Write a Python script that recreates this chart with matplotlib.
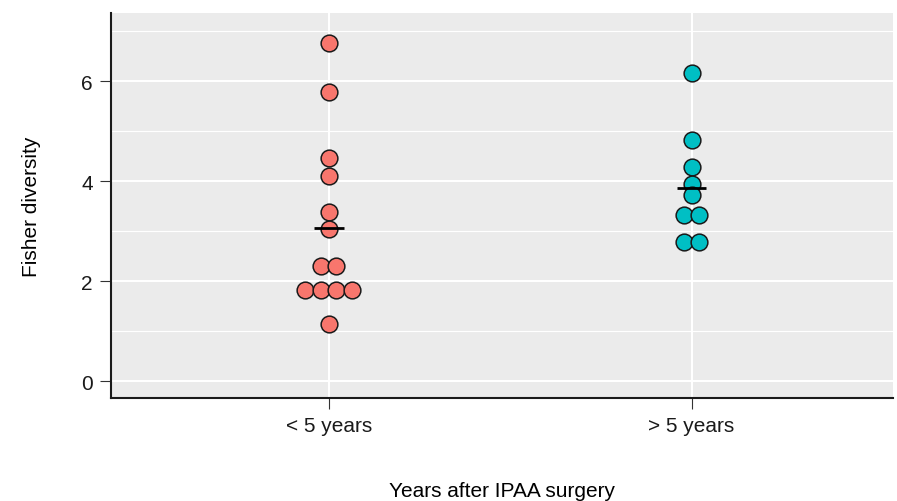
import matplotlib.pyplot as plt
import numpy as np

plt.rcParams["font.family"] = ["Liberation Sans", "DejaVu Sans"]

# data
groups = ["< 5 years", "> 5 years"]
under5 = [6.77, 5.79, 4.47, 4.11, 3.39, 3.05, 2.31, 2.31, 1.83, 1.83, 1.83, 1.83, 1.14]
over5 = [6.17, 4.83, 4.29, 3.94, 3.73, 3.32, 3.32, 2.79, 2.79]
group_means = [3.06, 3.86]
colors = ["#F8766D", "#00BFC4"]

DOT_W = 0.043

fig = plt.figure(figsize=(8.97, 5.02), dpi=100)
ax = fig.add_axes([0.1237, 0.205, 0.8718, 0.767])
ax.set_facecolor("#EBEBEB")

for i, (vals, col) in enumerate(zip([under5, over5], colors)):
    xpos = i + 1
    vals = np.array(vals)
    xs = np.zeros_like(vals)
    for v in np.unique(vals):
        idx = np.where(vals == v)[0]
        n = len(idx)
        xs[idx] = xpos + (np.arange(n) - (n - 1) / 2) * DOT_W
    ax.scatter(xs, vals, s=145, c=col, edgecolors="#1a1a1a", linewidths=1.1, zorder=3)
    ax.plot([xpos - 0.041, xpos + 0.041], [group_means[i]] * 2, color="black", lw=2, zorder=4,
            solid_capstyle="butt")

ax.set_xlim(0.4, 2.555)
ax.set_ylim(-0.34, 7.36)
ax.set_xticks([1, 2])
ax.set_xticklabels(groups)
ax.set_yticks([0, 2, 4, 6])
ax.set_yticks([1, 3, 5, 7], minor=True)

ax.grid(which="major", color="white", lw=1.5, zorder=0)
ax.grid(which="minor", axis="y", color="white", lw=0.8, zorder=0)
ax.set_axisbelow(True)

for s in ["top", "right"]:
    ax.spines[s].set_visible(False)
for s in ["left", "bottom"]:
    ax.spines[s].set_color("#1a1a1a")
    ax.spines[s].set_linewidth(1.5)

ax.tick_params(which="major", length=8, width=0.8, color="#333333", labelsize=15,
               labelcolor="#1a1a1a", pad=5)
ax.tick_params(which="minor", length=0)

ax.set_xlabel("Years after IPAA surgery", fontsize=15, labelpad=33)
ax.set_ylabel("Fisher diversity", fontsize=15, labelpad=29)

fig.savefig("out.png", dpi=100)
